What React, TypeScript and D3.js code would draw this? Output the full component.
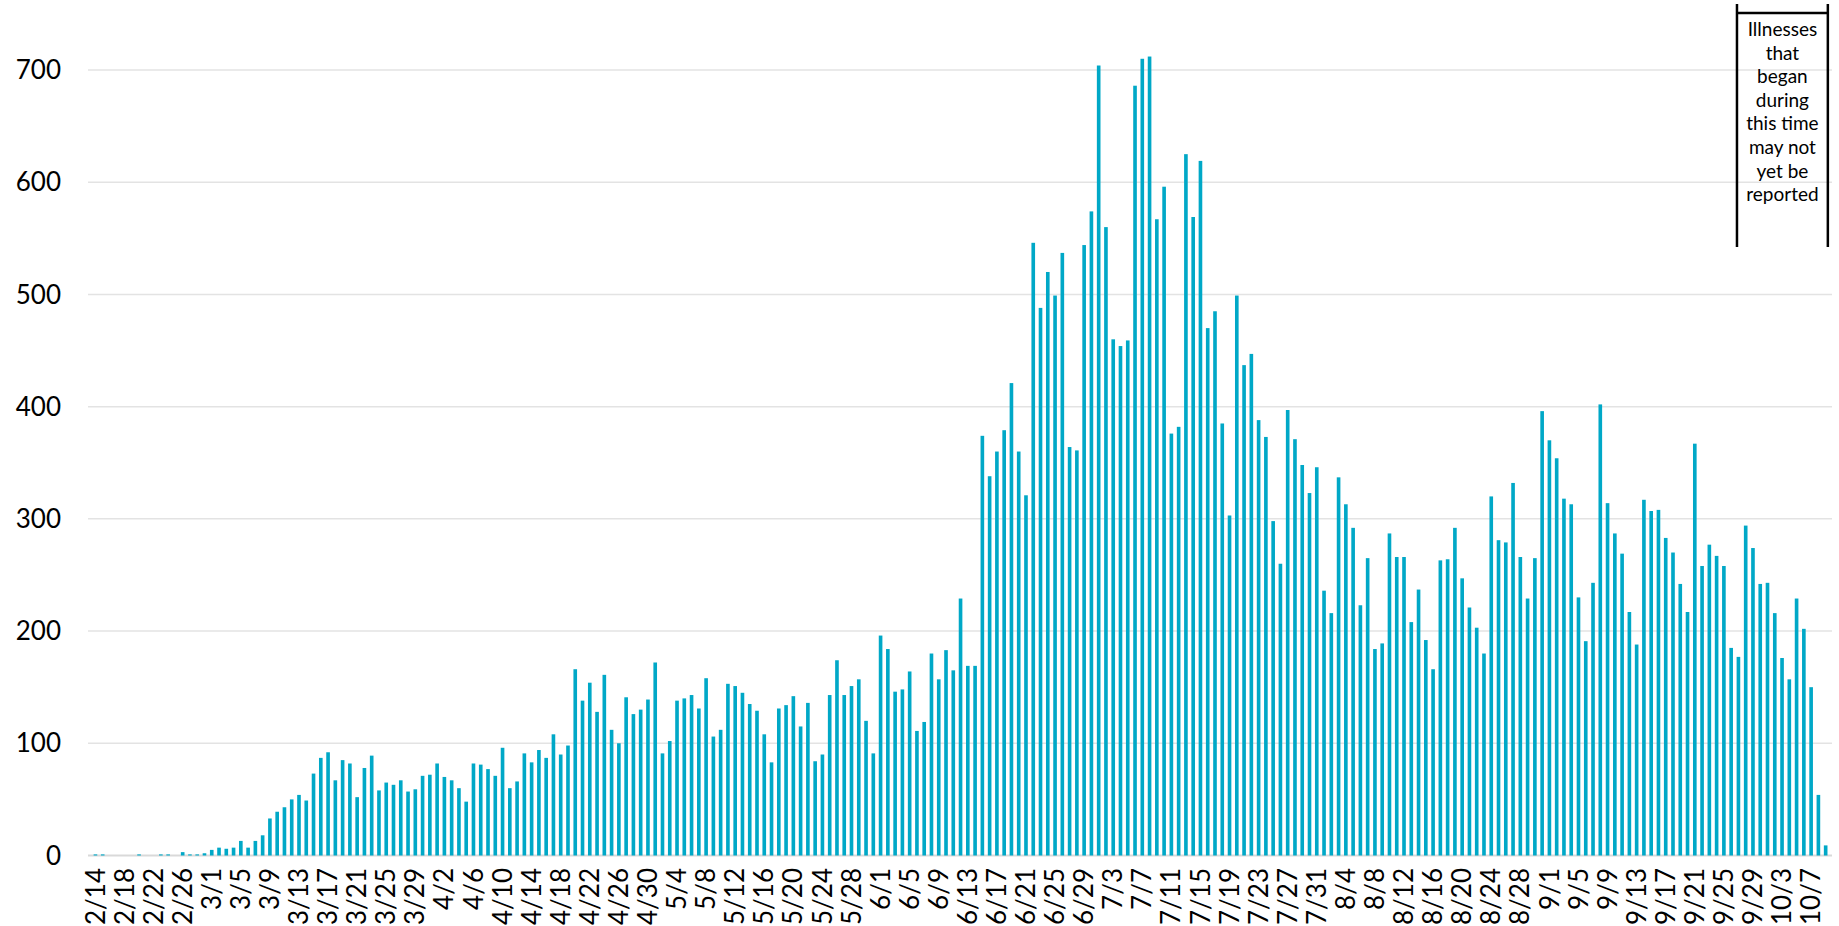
import React from "react";
import * as d3 from "d3";

// Daily illness onset dates, 2/14 through 10/9
const onsetStart = new Date(2020, 1, 14);
const onsetEnd = new Date(2020, 9, 9);
const fmtDay = d3.timeFormat("%-m/%-d");
const dates: string[] = d3
  .timeDay.range(onsetStart, d3.timeDay.offset(onsetEnd, 1))
  .map((d) => fmtDay(d));

// Number of illnesses by day of onset
const cases: number[] = [
  1, 1, 0, 0, 0, 0, 1, 0, 0, 1, 1, 0, 3, 1, 1, 2,
  5, 7, 6, 7, 13, 7, 13, 18, 33, 39, 43, 50, 54, 49, 73, 87, 92, 67, 85, 82, 52, 78, 89, 58, 65, 63, 67, 57, 59, 71, 72,
  82, 70, 67, 60, 48, 82, 81, 77, 71, 96, 60, 66, 91, 83, 94, 87, 108, 90, 98, 166, 138, 154, 128, 161, 112, 100, 141, 126, 130, 139,
  172, 91, 102, 138, 140, 143, 131, 158, 106, 112, 153, 151, 145, 135, 129, 108, 83, 131, 134, 142, 115, 136, 84, 90, 143, 174, 143, 151, 157, 120, 91,
  196, 184, 146, 148, 164, 111, 119, 180, 157, 183, 165, 229, 169, 169, 374, 338, 360, 379, 421, 360, 321, 546, 488, 520, 499, 537, 364, 361, 544, 574,
  704, 560, 460, 454, 459, 686, 710, 712, 567, 596, 376, 382, 625, 569, 619, 470, 485, 385, 303, 499, 437, 447, 388, 373, 298, 260, 397, 371, 348, 323, 346,
  236, 216, 337, 313, 292, 223, 265, 184, 189, 287, 266, 266, 208, 237, 192, 166, 263, 264, 292, 247, 221, 203, 180, 320, 281, 279, 332, 266, 229, 265, 396,
  370, 354, 318, 313, 230, 191, 243, 402, 314, 287, 269, 217, 188, 317, 307, 308, 283, 270, 242, 217, 367, 258, 277, 267, 258, 185, 177, 294, 274, 242,
  243, 216, 176, 157, 229, 202, 150, 54, 9,
];

const yTicks: number[] = [0, 100, 200, 300, 400, 500, 600, 700];
const xTickLabels: string[] = dates.filter((_, i) => i % 4 === 0);

const noteLines: string[] = [
  "Illnesses",
  "that",
  "began",
  "during",
  "this time",
  "may not",
  "yet be",
  "reported",
];
const noteStart = "9/27";
const noteEnd = "10/9";

const W = 1839;
const H = 926;
const BAR = "#00a8c7";
const GRID = "#e3e3e3";
const FONT = "Lato, 'Open Sans', sans-serif";

export default function App() {
  const x = d3
    .scaleBand<string>()
    .domain(dates)
    .range([91.8, 1829.3])
    .paddingInner(0.5)
    .paddingOuter(0.25);
  const y = d3.scaleLinear().domain([0, 700]).range([855.5, 70]);
  const bw = x.bandwidth();
  const step = x.step();

  const noteLeft = (x(noteStart) as number) + bw / 2 - step * 0.2;
  const noteRight = (x(noteEnd) as number) + bw / 2 + step * 0.3;
  const noteCx = (noteLeft + noteRight) / 2;

  return (
    <div style={{ position: "absolute", left: 0, top: 0, width: W, height: H, overflow: "hidden", background: "#fff" }}>
      <svg width={W} height={H} style={{ display: "block" }} fontFamily={FONT}>
        <rect x={0} y={0} width={W} height={H} fill="#ffffff" />
        {yTicks.map((t) => (
          <g key={t}>
            <line
              x1={88}
              x2={1832}
              y1={y(t)}
              y2={y(t)}
              stroke={t === 0 ? "#d9d9d9" : GRID}
              strokeWidth={t === 0 ? 2 : 1.5}
            />
            <text x={61} y={y(t)} dy="0.35em" textAnchor="end" fontSize={26} fill="#000">
              {t}
            </text>
          </g>
        ))}
        {dates.map((d, i) => (
          <rect
            key={d}
            x={x(d) as number}
            y={y(cases[i])}
            width={bw}
            height={Math.max(0, y(0) - y(cases[i]))}
            fill={BAR}
          />
        ))}
        {xTickLabels.map((d) => (
          <text
            key={d}
            transform={`translate(${(x(d) as number) + bw / 2},868) rotate(-90)`}
            dy="0.35em"
            textAnchor="end"
            fontSize={26}
            fill="#000"
          >
            {d}
          </text>
        ))}
        <g stroke="#000" strokeWidth={2.5} fill="none">
          <line x1={noteLeft} x2={noteLeft} y1={4} y2={247} />
          <line x1={noteRight} x2={noteRight} y1={4} y2={247} />
          <line x1={noteLeft} x2={noteRight} y1={13} y2={13} />
        </g>
        {noteLines.map((l, i) => (
          <text
            key={l}
            x={noteCx}
            y={36 + i * 23.6}
            textAnchor="middle"
            fontSize={19}
            fill="#000"
          >
            {l}
          </text>
        ))}
      </svg>
    </div>
  );
}
